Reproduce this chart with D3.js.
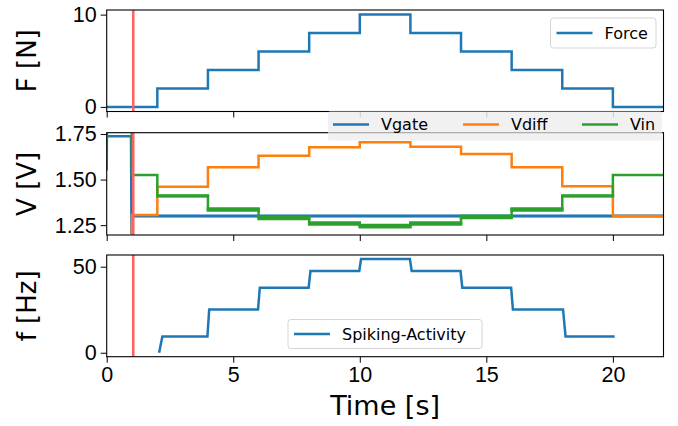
<!DOCTYPE html>
<html>
<head>
<meta charset="utf-8">
<script src="https://cdn.jsdelivr.net/npm/d3@7"></script>
<style>
  body { margin: 0; background: #fff; }
  svg { font-family: "DejaVu Sans", sans-serif; }
  .tick text { font-size: 21.5px; fill: #000; }
  .tick line { stroke: #000; }
</style>
</head>
<body>
<svg id="chart" width="678" height="426"></svg>
<script>
// step segment boundaries (s)
const stepTimes = [0, 2, 4, 6, 8, 10, 12, 14, 16, 18, 20, 22];
const forceLevels = [0, 2, 4, 6, 8, 10, 8, 6, 4, 2, 0];

// voltage steps start at t=1
const vStepTimes = [1, 2, 4, 6, 8, 10, 12, 14, 16, 18, 20, 22];
const vgateLevels = [1.30, 1.30, 1.30, 1.30, 1.30, 1.30, 1.30, 1.30, 1.30, 1.30, 1.30];
const vdiffLevels = [1.305, 1.46, 1.567, 1.631, 1.677, 1.704, 1.68, 1.64, 1.567, 1.463, 1.30];
const vinLevels = [1.525, 1.41, 1.336, 1.29, 1.259, 1.245, 1.259, 1.295, 1.336, 1.41, 1.525];
const vinSpread = [0, 0.002, 0.006, 0.006, 0.006, 0.006, 0.006, 0.006, 0.006, 0.002, 0];
// start-up transient before t=1
const vgateStartT = [0, 0.96, 0.98];
const vgateStartV = [1.737, 1.737, 1.20];
const vdiffStartT = [0.99];
const vdiffStartV = [1.20];
const vinStartT = [0, 0.01, 0.99];
const vinStartV = [1.55, 1.762, 1.762];

// spiking activity
const spikeT = [2.07, 2.2, 3.98, 4.05, 5.98, 6.05, 7.98, 8.05, 9.98, 10.05, 11.98, 12.05, 13.98, 14.05, 15.98, 16.05, 18.03, 18.13, 20.07];
const spikeF = [0, 9.5, 9.5, 25.2, 25.2, 37.8, 37.8, 47.5, 47.5, 54.5, 54.5, 47.5, 47.5, 37.8, 37.8, 25.2, 25.2, 9.5, 9.5];

const markerT = 1.05;

const blue = "#1f77b4", orange = "#ff7f0e", green = "#2ca02c";

const svg = d3.select("#chart");
const x = d3.scaleLinear().domain([0, 22]).range([106.7, 663.5]);

const panels = [
    { id: "top", y0: 10, y1: 111.5, domain: [-0.5, 10.5], ticks: [0, 10], fmt: d3.format("d"), label: "F [N]" },
    { id: "mid", y0: 132.7, y1: 235, domain: [1.196, 1.757], ticks: [1.25, 1.5, 1.75], fmt: d3.format(".2f"), label: "V [V]" },
    { id: "bot", y0: 255, y1: 356.7, domain: [-2.3, 56.8], ticks: [0, 50], fmt: d3.format("d"), label: "f [Hz]" }
];

const defs = svg.append("defs");
panels.forEach(p => {
    p.y = d3.scaleLinear().domain(p.domain).range([p.y1, p.y0]);
    defs.append("clipPath").attr("id", "clip-" + p.id)
        .append("rect")
        .attr("x", x.range()[0]).attr("y", p.y0)
        .attr("width", x.range()[1] - x.range()[0]).attr("height", p.y1 - p.y0);
    p.g = svg.append("g");
    p.plot = p.g.append("g").attr("clip-path", `url(#clip-${p.id})`);
});

function stepPoints(times, levels, startT, startV) {
    const pts = [];
    if (startT) startT.forEach((t, i) => pts.push([t, startV[i]]));
    levels.forEach((v, i) => {
        pts.push([times[i], v]);
        pts.push([times[i + 1], v]);
    });
    return pts;
}

// --- top panel: force
const pt = panels[0];
pt.plot.append("path")
    .datum(stepPoints(stepTimes, forceLevels))
    .attr("fill", "none").attr("stroke", blue).attr("stroke-width", 2.5)
    .attr("d", d3.line().x(d => x(d[0])).y(d => pt.y(d[1])));

// --- middle panel: voltages
const pm = panels[1];
const lineM = d3.line().x(d => x(d[0])).y(d => pm.y(d[1]));
const vgatePts = stepPoints(vStepTimes, vgateLevels, vgateStartT, vgateStartV);
pm.plot.append("path")
    .datum(stepPoints(vStepTimes, vgateLevels))
    .attr("fill", "none").attr("stroke", "#a9cbe6").attr("stroke-width", 4)
    .attr("d", lineM);
pm.plot.append("path")
    .datum(vgatePts)
    .attr("fill", "none").attr("stroke", blue).attr("stroke-width", 2.5)
    .attr("d", lineM);
pm.plot.append("path")
    .datum(stepPoints(vStepTimes, vdiffLevels, vdiffStartT, vdiffStartV))
    .attr("fill", "none").attr("stroke", orange).attr("stroke-width", 2.5)
    .attr("d", lineM);

// Vin ripple band, one piece per step so joins stay square
vinLevels.forEach((v, i) => {
    if (!vinSpread[i]) return;
    pm.plot.append("path")
        .datum([[vStepTimes[i], v, vinSpread[i]], [vStepTimes[i + 1], v, vinSpread[i]]])
        .attr("fill", green).attr("stroke", green).attr("stroke-width", 2.5)
        .attr("d", d3.area().x(d => x(d[0])).y0(d => pm.y(d[1] - d[2])).y1(d => pm.y(d[1] + d[2])));
});
pm.plot.append("path")
    .datum(stepPoints(vStepTimes, vinLevels, vinStartT, vinStartV))
    .attr("fill", "none").attr("stroke", green).attr("stroke-width", 2.5)
    .attr("d", lineM);

// --- bottom panel: spiking activity
const pb = panels[2];
pb.plot.append("path")
    .datum(spikeT.map((t, i) => [t, spikeF[i]]))
    .attr("fill", "none").attr("stroke", blue).attr("stroke-width", 2.5)
    .attr("d", d3.line().x(d => x(d[0])).y(d => pb.y(d[1])));

// red marker
panels.forEach(p => {
    p.plot.append("line")
        .attr("x1", x(markerT)).attr("x2", x(markerT))
        .attr("y1", p.y0).attr("y2", p.y1)
        .attr("stroke", "#ff6161").attr("stroke-width", 2.5);
});

// middle legend background
const lg = svg.append("g");
lg.append("rect")
    .attr("x", 328).attr("y", 111.5).attr("width", 334).attr("height", 29)
    .attr("rx", 2).attr("fill", "#eeeeee").attr("fill-opacity", 0.85);

panels.forEach((p, k) => {
    p.g.append("rect")
        .attr("x", x.range()[0]).attr("y", p.y0)
        .attr("width", x.range()[1] - x.range()[0]).attr("height", p.y1 - p.y0)
        .attr("fill", "none").attr("stroke", "#000").attr("stroke-width", 1.1);

    const ya = p.g.append("g")
        .attr("transform", `translate(${x.range()[0]},0)`)
        .call(d3.axisLeft(p.y).tickValues(p.ticks).tickFormat(p.fmt).tickSize(6).tickPadding(4));
    ya.select(".domain").remove();

    const xa = p.g.append("g")
        .attr("transform", `translate(0,${p.y1})`)
        .call(d3.axisBottom(x).tickValues([0, 5, 10, 15, 20]).tickSize(6).tickPadding(4)
            .tickFormat(k === 2 ? d3.format("d") : () => ""));
    xa.select(".domain").remove();

    svg.append("text")
        .attr("transform", `translate(27,${(p.y0 + p.y1) / 2}) rotate(-90)`)
        .attr("text-anchor", "middle")
        .attr("dominant-baseline", "central")
        .attr("font-size", 26)
        .text(p.label);
});

// legend sits above frames, middle frame top shows through faintly
lg.raise();
lg.append("line").attr("x1", 328).attr("x2", 662).attr("y1", pm.y0).attr("y2", pm.y0)
    .attr("stroke", "#000").attr("stroke-opacity", 0.2);
svg.selectAll(".tick line").raise();

const vLegend = [
    { name: "Vgate", color: blue, x: 333 },
    { name: "Vdiff", color: orange, x: 463 },
    { name: "Vin", color: green, x: 582 }
];
vLegend.forEach(d => {
    lg.append("line").attr("x1", d.x).attr("x2", d.x + 36).attr("y1", 124.5).attr("y2", 124.5)
        .attr("stroke", d.color).attr("stroke-width", 2.5);
    lg.append("text").attr("x", d.x + 48).attr("y", 130).attr("font-size", 16).text(d.name);
});

// boxed legends
function boxLegend(bx, by, bw, bh, label) {
    const g = svg.append("g");
    g.append("rect").attr("x", bx).attr("y", by).attr("width", bw).attr("height", bh)
        .attr("rx", 3).attr("fill", "#fff").attr("fill-opacity", 0.8)
        .attr("stroke", "#d5d5d5").attr("stroke-width", 1);
    g.append("line").attr("x1", bx + 6).attr("x2", bx + 42)
        .attr("y1", by + bh / 2).attr("y2", by + bh / 2)
        .attr("stroke", blue).attr("stroke-width", 2.5);
    g.append("text").attr("x", bx + 54).attr("y", by + bh / 2 + 5.5)
        .attr("font-size", 16).text(label);
}
boxLegend(550.5, 18, 105.5, 30, "Force");
boxLegend(288, 319.5, 194, 29, "Spiking-Activity");

svg.append("text")
    .attr("x", (x.range()[0] + x.range()[1]) / 2).attr("y", 415)
    .attr("text-anchor", "middle").attr("font-size", 27)
    .text("Time [s]");
</script>
</body>
</html>
